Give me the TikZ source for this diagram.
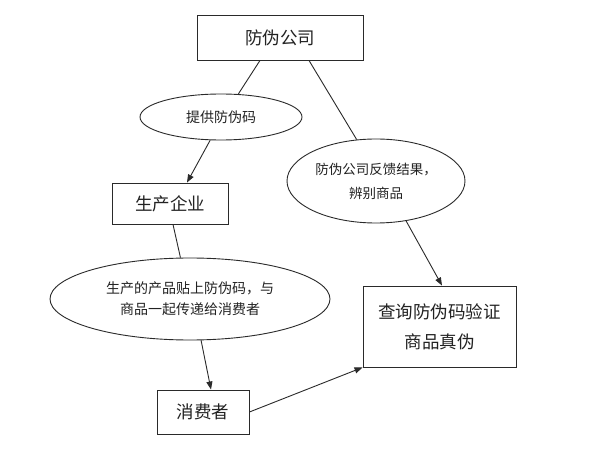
\documentclass[tikz,border=0pt]{standalone}
\usepackage{fontspec}
\setmainfont{Noto Sans CJK SC}
\usetikzlibrary{shapes.geometric,arrows.meta}
\definecolor{txt}{HTML}{222222}
\definecolor{ln}{HTML}{2A2A2A}
\begin{document}
\begin{tikzpicture}[x=1pt,y=-1pt,
  box/.style={draw=ln,line width=0.9pt,rectangle,inner sep=0pt,text=txt,align=center,
    font=\fontsize{17.5pt}{30pt}\selectfont},
  oval/.style={draw=ln,line width=0.9pt,ellipse,inner sep=0pt,text=txt,align=center},
  link/.style={draw=ln,line width=0.9pt},
  arr/.style={link,-{Triangle[length=8pt,width=6pt]}}]
\useasboundingbox[fill=white] (0,0) rectangle (600,457);
\node[box,minimum width=166pt,minimum height=45pt] (co) at (280,37.5) {防伪公司};
\node[oval,minimum width=162pt,minimum height=46pt,font=\fontsize{14pt}{20pt}\selectfont] (e1) at (221,117) {提供防伪码};
\node[oval,minimum width=178pt,minimum height=84pt,font=\fontsize{13.5pt}{24pt}\selectfont] (e2) at (376,181) {防伪公司反馈结果，\\辨别商品};
\node[box,minimum width=116pt,minimum height=41pt] (pe) at (170,203.5) {生产企业};
\node[oval,minimum width=280pt,minimum height=82pt,font=\fontsize{14pt}{21pt}\selectfont] (e3) at (190,299) {生产的产品贴上防伪码，与\\商品一起传递给消费者};
\node[box,minimum width=92pt,minimum height=44pt] (xf) at (203,412) {消费者};
\node[box,minimum width=153pt,minimum height=81pt] (cx) at (439.5,326.5) {查询防伪码验证\\商品真伪};
\draw[link] ([xshift=-20pt]co.south) -- (e1.53);
\draw[arr] (e1.245) -- ([xshift=17pt]pe.north);
\draw[link] ([xshift=29pt]co.south) -- (e2.115);
\draw[arr] (e2.307) -- ([xshift=2.5pt]cx.north);
\draw[link] ([xshift=3pt]pe.south) -- (e3.103);
\draw[arr] (e3.285) -- ([xshift=8pt]xf.north);
\draw[arr] (xf.east) -- (cx.south west);
\end{tikzpicture}
\end{document}
